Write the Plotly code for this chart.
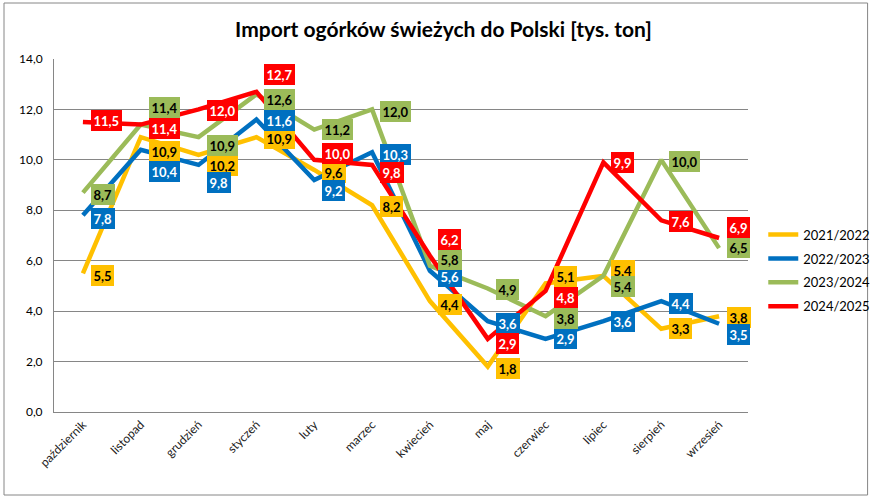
import plotly.graph_objects as go

months = ["październik", "listopad", "grudzień", "styczeń", "luty", "marzec",
          "kwiecień", "maj", "czerwiec", "lipiec", "sierpień", "wrzesień"]
series_names = ["2021/2022", "2022/2023", "2023/2024", "2024/2025"]
v2122 = [5.5, 10.9, 10.2, 10.9, 9.6, 8.2, 4.4, 1.8, 5.1, 5.4, 3.3, 3.8]
v2223 = [7.8, 10.4, 9.8, 11.6, 9.2, 10.3, 5.6, 3.6, 2.9, 3.6, 4.4, 3.5]
v2324 = [8.7, 11.4, 10.9, 12.6, 11.2, 12.0, 5.8, 4.9, 3.8, 5.4, 10.0, 6.5]
v2425 = [11.5, 11.4, 12.0, 12.7, 10.0, 9.8, 6.2, 2.9, 4.8, 9.9, 7.6, 6.9]
y_ticks = [0, 2, 4, 6, 8, 10, 12, 14]

# styling / label nudges (pixels, positive = up)
colors = ["#FFC000", "#0070C0", "#9BBB59", "#FF0000"]
label_font_colors = ["#000000", "#FFFFFF", "#000000", "#FFFFFF"]
nudge = [
    [-2, -14, -11, -1, -3, -1, -3, -2, 7, 5, 0, -1],
    [-3, -22, -18, -1, -10, -2, -6, -2, 0, 0, -2, -11],
    [-2, 17, -8, -5, 0, -2, 6, -1, -2, -11, -2, 1],
    [2, -4, -1, 17, 6, -8, 16, -5, -7, 0, -1, 11],
]

all_values = [v2122, v2223, v2324, v2425]

fig = go.Figure()
for name, vals, col in zip(series_names, all_values, colors):
    fig.add_trace(go.Scatter(
        x=months, y=vals, name=name, mode="lines",
        line=dict(color=col, width=4.5),
        legendgroup=name,
    ))

annotations = []
for vals, col, fcol, nd in zip(all_values, colors, label_font_colors, nudge):
    for m, v, dy in zip(months, vals, nd):
        annotations.append(dict(
            x=m, y=v, xref="x", yref="y",
            text=f"<b>{v:.1f}</b>".replace(".", ","),
            showarrow=False, xanchor="left", yanchor="middle",
            xshift=8, yshift=dy,
            bgcolor=col, borderpad=2.5, borderwidth=0,
            font=dict(family="Lato, sans-serif", size=13, color=fcol),
        ))

fig.update_layout(
    width=887, height=499,
    margin=dict(l=54, r=125, t=59, b=87),
    paper_bgcolor="white", plot_bgcolor="white",
    separators=", ",
    font=dict(family="Lato, sans-serif", color="#000000"),
    title=dict(text="<b>Import ogórków świeżych do Polski [tys. ton]</b>",
               x=0.5, xref="container", xanchor="center",
               y=1 - 30 / 499, yref="container", yanchor="middle",
               font=dict(family="Lato, sans-serif", size=21, color="#000000")),
    showlegend=True,
    legend=dict(x=1.022, y=0.545, xanchor="left", yanchor="top",
                font=dict(family="Lato, sans-serif", size=13, color="#000000"),
                itemwidth=30, tracegroupgap=4, bgcolor="rgba(0,0,0,0)"),
    annotations=annotations,
    shapes=[dict(type="rect", xref="paper", yref="paper",
                 x0=(3 - 54) / 708, x1=(884 - 54) / 708,
                 y0=(412 - 495) / 353, y1=(412 - 3) / 353,
                 line=dict(color="#868686", width=1), fillcolor="rgba(0,0,0,0)",
                 layer="below")],
)
fig.update_xaxes(
    type="category", showgrid=False, showline=True, linecolor="#868686", linewidth=1,
    ticks="", tickangle=-45, tickfont=dict(family="Lato, sans-serif", size=12, color="#222222"),
    range=[-0.5, 11.5],
)
fig.update_yaxes(
    range=[0, 14], tickvals=y_ticks, tickformat=".1f",
    showgrid=True, gridcolor="#868686", gridwidth=1,
    showline=True, linecolor="#868686", linewidth=1, ticks="",
    ticklabelstandoff=8,
    tickfont=dict(family="Lato, sans-serif", size=12, color="#000000"),
    zeroline=False,
)

fig.write_html("out.html")
